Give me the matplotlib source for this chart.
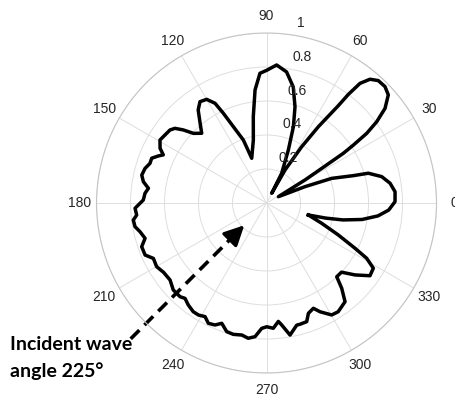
import numpy as np
import matplotlib
matplotlib.use('Agg')
import matplotlib.pyplot as plt
import matplotlib.transforms as mtransforms

# ===========================
# --- 数据区域 ---
# ===========================
# 方向图曲线: 角度 (度) 与归一化幅值
theta_deg = [
    -16.0, -14.3, -12.5, -9.8, -6.6, -3.3, 0.6, 5.0, 9.1, 12.9, 16.3, 17.5, 20.7,
    23.0, 28.0, 30.9, 32.2, 32.9, 33.7, 34.8, 36.4, 38.6, 41.6, 44.5, 47.6,
    50.1, 52.0, 53.0, 53.6, 55.8, 58.0, 60.7, 61.8, 63.0, 67.6, 70.6, 73.5,
    77.0, 81.3, 85.8, 90.0,
    92.9, 95.8, 98.7, 101.8, 108.3, 110.2, 113.5, 115.7, 117.3, 120.0, 123.3,
    126.3, 129.8, 132.9, 136.4, 138.7, 140.8, 142.9, 146.2, 149.4, 152.8,
    155.0, 156.5, 158.7, 161.2, 164.1, 167.4, 170.2, 172.9, 175.4, 178.6,
    182.3, 185.3, 187.3, 190.2, 192.8, 196.2, 199.3, 203.2, 206.1, 210.1,
    214.0, 218.6, 223.0, 227.3, 229.5, 232.5, 236.0, 238.7, 241.6, 244.2,
    247.1, 249.6, 252.8, 255.8, 259.4, 262.3, 265.1, 267.8, 270.1, 273.1,
    275.7, 277.1, 280.1, 283.9, 285.4, 288.7, 290.8, 294.0, 296.2, 300.2,
    303.4, 308.5, 311.4, 313.6, 317.3, 320.9, 324.9, 328.6, 331.1, 332.9,
    336.0, 339.8, 344.0,
]
r_vals = [
    0.256, 0.360, 0.460, 0.570, 0.660, 0.720, 0.756, 0.759, 0.736, 0.695, 0.624, 0.535, 0.410,
    0.246, 0.079, 0.264, 0.400, 0.538, 0.614, 0.718, 0.805, 0.892, 0.958, 0.977, 0.975,
    0.949, 0.893, 0.800, 0.710, 0.543, 0.390, 0.223, 0.065, 0.196, 0.337, 0.476, 0.590,
    0.700, 0.780, 0.814, 0.780,
    0.764, 0.668, 0.514, 0.379, 0.277, 0.395, 0.490, 0.586, 0.660, 0.704, 0.713,
    0.679, 0.610, 0.560, 0.594, 0.651, 0.695, 0.712, 0.719, 0.728, 0.704,
    0.670, 0.694, 0.725, 0.724, 0.743, 0.752, 0.735, 0.700, 0.717, 0.725,
    0.774, 0.767, 0.790, 0.786, 0.763, 0.744, 0.778, 0.777, 0.741, 0.747,
    0.730, 0.726, 0.750, 0.750, 0.738, 0.756, 0.771, 0.771, 0.760, 0.786,
    0.779, 0.755, 0.792, 0.797, 0.790, 0.803, 0.789, 0.738, 0.728, 0.738,
    0.700, 0.723, 0.789, 0.740, 0.740, 0.737, 0.694, 0.678, 0.713, 0.762,
    0.766, 0.742, 0.669, 0.599, 0.600, 0.671, 0.744, 0.736, 0.673, 0.585,
    0.462, 0.346, 0.256,
]

theta_ticks = list(range(0, 360, 30))
r_ticks = [0.2, 0.4, 0.6, 0.8, 1.0]
r_tick_labels = ['0.2', '0.4', '0.6', '0.8', '1']

incident_angle = 225          # 入射波角度
arrow_r = [1.13, 0.185]       # 箭头起点 / 终点半径

TICK_COLOR = '#262626'
GRID_COLOR = '#dedede'
TICK_FONT = ['Liberation Sans', 'DejaVu Sans']

# ===========================
# --- 绘图 ---
# ===========================
fig = plt.figure(figsize=(4.55, 4.0), dpi=100)
ax = fig.add_axes([0.2121, 0.0675, 0.7473, 0.85], projection='polar')

ax.plot(np.deg2rad(theta_deg), r_vals, color='black', lw=2.5,
        solid_joinstyle='round')

ax.set_ylim(0, 1)
ax.set_thetagrids(theta_ticks, [str(t) for t in theta_ticks],
                  family=TICK_FONT)
ax.set_rticks(r_ticks)
ax.set_yticklabels([])
ax.tick_params(axis='x', pad=2, labelsize=10, labelcolor=TICK_COLOR)
ax.grid(True, color=GRID_COLOR, lw=0.7)
ax.spines['polar'].set_color('#c4c4c4')
ax.spines['polar'].set_linewidth(0.8)

# 径向刻度标签 (沿 82° 方向)
offset = mtransforms.ScaledTranslation(5 / 72, 3 / 72, fig.dpi_scale_trans)
for rv, lab in zip(r_ticks, r_tick_labels):
    ax.text(np.deg2rad(82), rv, lab, transform=ax.transData + offset,
            ha='left', va='bottom', fontsize=10, color=TICK_COLOR,
            family=TICK_FONT)

# 入射波箭头: 虚线箭杆 + 实心箭头
a = np.deg2rad(incident_angle)
ax.plot([a, a], [arrow_r[0], arrow_r[1] + 0.1], color='black', lw=2.6,
        ls=(0, (3.4, 2.0)), clip_on=False, solid_capstyle='butt')
ax.annotate('', xy=(a, arrow_r[1]), xytext=(a, arrow_r[1] + 0.12),
            arrowprops=dict(arrowstyle='-|>,head_length=0.6,head_width=0.3',
                            color='black', lw=2.4, mutation_scale=20,
                            shrinkA=0, shrinkB=0),
            annotation_clip=False)

fig.text(10 / 455, 1 - 345 / 400, 'Incident wave', fontsize=14, fontweight='bold',
         family=['Lato', 'DejaVu Sans'], ha='left', va='center')
fig.text(10 / 455, 1 - 371 / 400, 'angle 225°', fontsize=14, fontweight='bold',
         family=['Lato', 'DejaVu Sans'], ha='left', va='center')

fig.savefig('out.png', dpi=100)
